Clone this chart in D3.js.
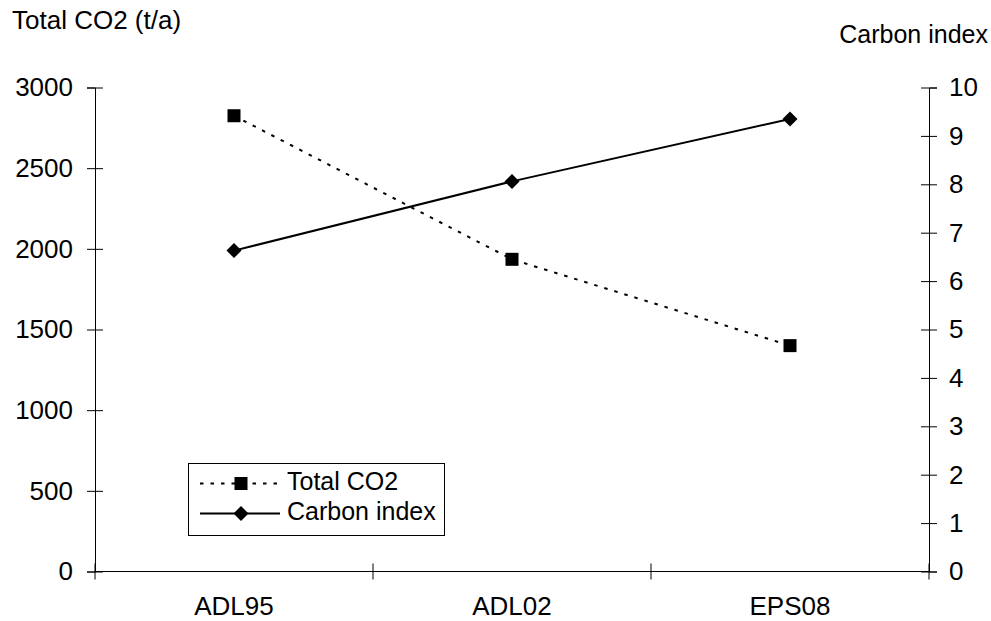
<!DOCTYPE html>
<html>
<head>
<meta charset="utf-8">
<script src="https://cdn.jsdelivr.net/npm/d3@7"></script>
<style>
  html, body { margin: 0; padding: 0; background: #fff; }
  svg { display: block; }
  text { font-family: "Liberation Sans", Arial, sans-serif; fill: #000; }
</style>
</head>
<body>
<svg id="chart" width="991" height="621"></svg>
<script>
const categories = ["ADL95", "ADL02", "EPS08"];
const totalCO2 = [2825, 1935, 1400];
const carbonIndex = [6.63, 8.06, 9.35];
const leftTicks = [0, 500, 1000, 1500, 2000, 2500, 3000];
const rightTicks = [0, 1, 2, 3, 4, 5, 6, 7, 8, 9, 10];
const leftTitle = "Total CO2 (t/a)";
const rightTitle = "Carbon index";
const seriesNames = ["Total CO2", "Carbon index"];

const svg = d3.select("#chart");
const fs = 26;
const xL = 95, xR = 929, yB = 571.5, yT = 87.5;

const x = d3.scaleBand().domain(categories).range([xL, xR]).padding(0);
const yLeft = d3.scaleLinear().domain([0, 3000]).range([yB, yT]);
const yRight = d3.scaleLinear().domain([0, 10]).range([yB, yT]);

// Left axis
const gl = svg.append("g").attr("transform", `translate(${xL},0)`)
  .call(d3.axisLeft(yLeft).tickValues(leftTicks).tickSize(8).tickPadding(14).tickFormat(d3.format("d")));
gl.selectAll(".tick line").attr("x1", -8).attr("x2", 8);
// Right axis
const gr = svg.append("g").attr("transform", `translate(${xR},0)`)
  .call(d3.axisRight(yRight).tickValues(rightTicks).tickSize(8).tickPadding(12).tickFormat(d3.format("d")));
gr.selectAll(".tick line").attr("x1", -8).attr("x2", 8);
// Bottom axis
const xEdges = [xL].concat(categories.map(c => x(c) + x.bandwidth()));
const gb = svg.append("g").attr("transform", `translate(0,${yB})`);
gb.append("line").attr("x1", xL).attr("x2", xR).attr("y1", 0).attr("y2", 0).attr("stroke", "#000");
gb.selectAll("line.tk").data(xEdges).join("line").attr("class", "tk")
  .attr("x1", d => d).attr("x2", d => d).attr("y1", -8).attr("y2", 8).attr("stroke", "#000");
gb.selectAll("text").data(categories).join("text")
  .attr("x", d => x(d) + x.bandwidth() / 2).attr("y", 43.5)
  .attr("text-anchor", "middle").attr("font-size", fs).text(d => d);

[gl, gr].forEach(g => {
  g.selectAll("path.domain").attr("stroke", "#000").attr("stroke-width", 1);
  g.selectAll(".tick line").attr("stroke", "#000");
  g.selectAll(".tick text").attr("font-size", fs).attr("font-family", '"Liberation Sans", Arial, sans-serif').attr("fill", "#000");
});

// Titles
svg.append("text").attr("x", 12).attr("y", 29).attr("font-size", fs).text(leftTitle);
svg.append("text").attr("x", 988).attr("y", 43).attr("text-anchor", "end").attr("font-size", fs - 1).text(rightTitle);

const cx = d => x(d) + x.bandwidth() / 2;

// Total CO2 (dotted)
const co2Data = categories.map((c, i) => [cx(c), yLeft(totalCO2[i])]);
svg.append("path").attr("d", d3.line()(co2Data)).attr("fill", "none")
  .attr("stroke", "#000").attr("stroke-width", 2).attr("stroke-dasharray", "3.5,7");
const sq = 13;
svg.selectAll("rect.co2").data(co2Data).join("rect").attr("class", "co2")
  .attr("x", d => d[0] - sq / 2).attr("y", d => d[1] - sq / 2)
  .attr("width", sq).attr("height", sq).attr("fill", "#000");

// Carbon index (solid)
const ciData = categories.map((c, i) => [cx(c), yRight(carbonIndex[i])]);
svg.append("path").attr("d", d3.line()(ciData)).attr("fill", "none")
  .attr("stroke", "#000").attr("stroke-width", 2);
const dm = 7.5;
const diamond = (px, py) => `M${px},${py - dm}L${px + dm},${py}L${px},${py + dm}L${px - dm},${py}Z`;
svg.selectAll("path.ci").data(ciData).join("path").attr("class", "ci")
  .attr("d", d => diamond(d[0], d[1])).attr("fill", "#000");

// Legend
const lg = svg.append("g");
lg.append("rect").attr("x", 188.5).attr("y", 463.5).attr("width", 256).attr("height", 72)
  .attr("fill", "#fff").attr("stroke", "#000").attr("stroke-width", 1);
const rows = [483.5, 513.5];
lg.append("line").attr("x1", 200).attr("x2", 280).attr("y1", rows[0]).attr("y2", rows[0])
  .attr("stroke", "#000").attr("stroke-width", 2).attr("stroke-dasharray", "3.5,7");
lg.append("rect").attr("x", 241 - sq / 2).attr("y", rows[0] - sq / 2).attr("width", sq).attr("height", sq).attr("fill", "#000");
lg.append("line").attr("x1", 200).attr("x2", 280).attr("y1", rows[1]).attr("y2", rows[1])
  .attr("stroke", "#000").attr("stroke-width", 2);
lg.append("path").attr("d", diamond(241, rows[1])).attr("fill", "#000");
lg.selectAll("text.lt").data(seriesNames).join("text").attr("class", "lt")
  .attr("x", 287).attr("y", (d, i) => rows[i] + 6).attr("font-size", fs - 1).text(d => d);
</script>
</body>
</html>
